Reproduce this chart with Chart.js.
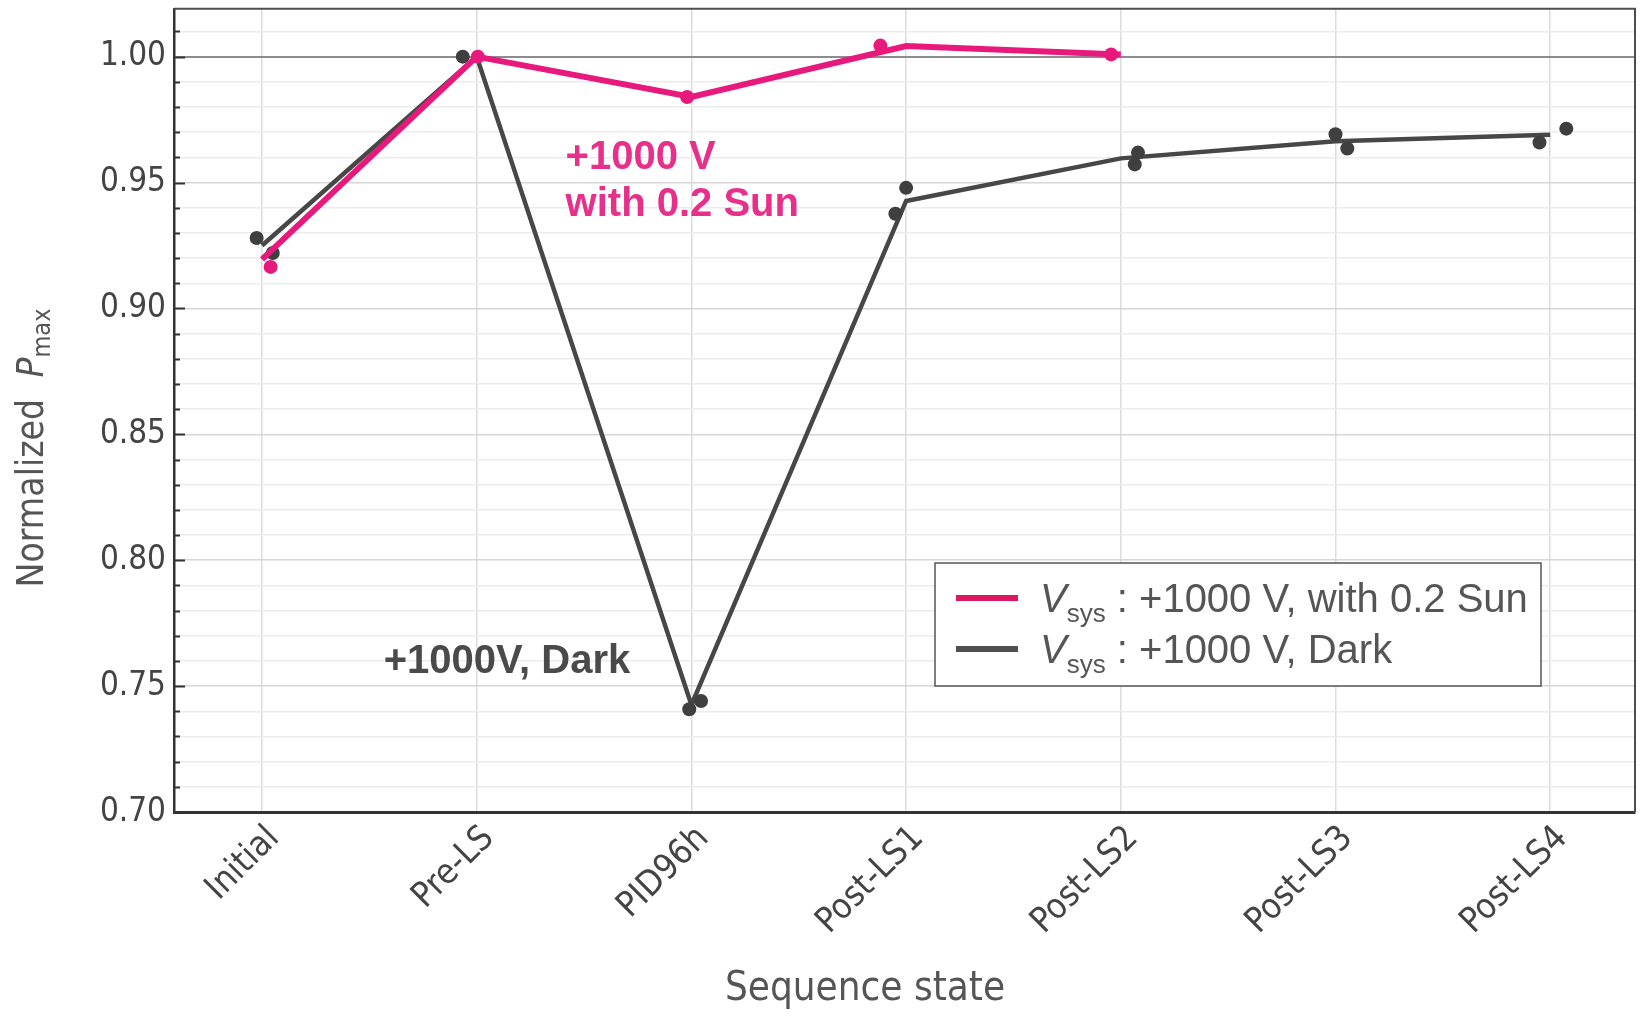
<!DOCTYPE html>
<html>
<head>
<meta charset="utf-8">
<script src="https://cdn.jsdelivr.net/npm/chart.js@4.4.1/dist/chart.umd.min.js"></script>
<style>
  html, body { margin: 0; padding: 0; background: #ffffff; }
  #wrap { width: 1642px; height: 1016px; position: relative; }
</style>
</head>
<body>
<div id="wrap"><canvas id="chart" width="1642" height="1016"></canvas></div>
<script>
// Sequence states along the x axis
const categories = ['Initial', 'Pre-LS', 'PID96h', 'Post-LS1', 'Post-LS2', 'Post-LS3', 'Post-LS4'];

// Mean normalized Pmax per state (null = not measured)
const sunMean  = [0.9195, 1.000, 0.984, 1.0042, 1.0009, null, null];
const darkMean = [0.925, 1.000, 0.7425, 0.9427, 0.9596, 0.9664, 0.9690];

// Individual samples: state index, small horizontal jitter (in state units), value
const sunSampleState  = [0, 1, 2, 3, 4];
const sunSampleJitter = [0.04, 0.005, -0.02, -0.12, -0.045];
const sunSampleValue  = [0.9165, 1.000, 0.984, 1.0044, 1.0009];

const darkSampleState  = [0, 0, 1, 2, 2, 3, 3, 4, 4, 5, 5, 6, 6];
const darkSampleJitter = [-0.025, 0.05, -0.065, -0.01, 0.045, 0.0, -0.05, 0.08, 0.065, 0.0, 0.055, -0.05, 0.075];
const darkSampleValue  = [0.928, 0.922, 1.000, 0.7408, 0.7441, 0.9479, 0.9376, 0.9619, 0.9572, 0.9692, 0.9635, 0.9659, 0.9714];

// Y axis: labelled major ticks and the minor step between them
const yMajorTicks = [0.70, 0.75, 0.80, 0.85, 0.90, 0.95, 1.00];
const yMinorStep = 0.01;

const PINK = '#E8197D';
const PINK_TEXT = '#E6308A';
const DARK = '#474747';
const CONDENSED = '"DejaVu Sans Condensed", "DejaVu Sans", sans-serif';
const ARIAL = '"Liberation Sans", Arial, sans-serif';

function yGridValues() {
  const out = [];
  const n = Math.round((1.01 - yMajorTicks[0]) / yMinorStep);
  for (let k = 0; k <= n; k++) out.push(Math.round((yMajorTicks[0] + k * yMinorStep) * 100) / 100);
  return out;
}
const isMajor = v => yMajorTicks.some(m => Math.abs(m - v) < 1e-6);

function meanPoints(arr) {
  const pts = [];
  arr.forEach((v, i) => { if (v !== null) pts.push({ x: i, y: v }); });
  return pts;
}
function samplePoints(states, jitter, values) {
  return values.map((v, k) => ({ x: states[k] + jitter[k], y: v }));
}

// Draws a run of text pieces (font, colour, vertical shift) left to right
function drawRuns(ctx, x, y, runs) {
  let cx = x;
  runs.forEach(r => {
    ctx.font = r.font;
    ctx.fillStyle = r.color;
    ctx.fillText(r.text, cx, y + (r.dy || 0));
    cx += ctx.measureText(r.text).width;
  });
  return cx - x;
}
function runsWidth(ctx, runs) {
  let w = 0;
  runs.forEach(r => { ctx.font = r.font; w += ctx.measureText(r.text).width; });
  return w;
}

const decor = {
  id: 'decor',
  afterDraw(chart) {
    const { ctx, chartArea: a, scales: { x, y } } = chart;
    ctx.save();

    // top and right frame
    ctx.strokeStyle = '#4d4d4d';
    ctx.lineWidth = 2;
    ctx.beginPath();
    ctx.moveTo(a.left, a.top);
    ctx.lineTo(a.right, a.top);
    ctx.lineTo(a.right, a.bottom);
    ctx.stroke();

    // inward ticks on the y axis
    ctx.strokeStyle = '#333';
    ctx.lineWidth = 2;
    yGridValues().forEach(v => {
      const py = Math.round(y.getPixelForValue(v)) + 0.5;
      const len = isMajor(v) ? 11 : 6;
      ctx.beginPath();
      ctx.moveTo(a.left, py);
      ctx.lineTo(a.left + len, py);
      ctx.stroke();
    });

    // in-plot annotations
    ctx.textBaseline = 'middle';
    ctx.textAlign = 'left';
    ctx.font = 'bold 40px ' + ARIAL;
    ctx.fillStyle = PINK_TEXT;
    ctx.fillText('+1000 V', x.getPixelForValue(1.414), y.getPixelForValue(0.9596));
    ctx.fillText('with 0.2 Sun', x.getPixelForValue(1.414), y.getPixelForValue(0.9409));
    ctx.fillStyle = '#4a4a4a';
    ctx.fillText('+1000V, Dark', x.getPixelForValue(0.567), y.getPixelForValue(0.7596));

    // legend box
    const lx = 935, ly = 563, lw = 606, lh = 123;
    ctx.fillStyle = '#ffffff';
    ctx.fillRect(lx, ly, lw, lh);
    ctx.strokeStyle = '#555';
    ctx.lineWidth = 1.5;
    ctx.strokeRect(lx, ly, lw, lh);
    const entries = [
      { color: '#DC1862', text: ' : +1000 V, with 0.2 Sun', cy: 598 },
      { color: '#505050', text: ' : +1000 V, Dark', cy: 649 }
    ];
    ctx.textBaseline = 'alphabetic';
    entries.forEach(e => {
      ctx.strokeStyle = e.color;
      ctx.lineWidth = 6;
      ctx.beginPath();
      ctx.moveTo(956, e.cy);
      ctx.lineTo(1018, e.cy);
      ctx.stroke();
      drawRuns(ctx, 1040, e.cy + 14, [
        { text: 'V', font: 'italic 40px ' + ARIAL, color: '#555' },
        { text: 'sys', font: '26px ' + ARIAL, color: '#555', dy: 10 },
        { text: e.text, font: '40px ' + ARIAL, color: '#555' }
      ]);
    });

    // x axis title
    ctx.textBaseline = 'middle';
    ctx.textAlign = 'center';
    ctx.font = '40px ' + CONDENSED;
    ctx.fillStyle = '#555';
    ctx.fillText('Sequence state', 865, 990);

    // y axis title with italic P and subscript "max"
    const yRuns = [
      { text: 'Normalized  ', font: '37px ' + CONDENSED, color: '#555' },
      { text: 'P', font: 'italic 37px ' + CONDENSED, color: '#555' },
      { text: 'max', font: '25px ' + CONDENSED, color: '#555', dy: 10 }
    ];
    ctx.textAlign = 'left';
    ctx.translate(33, 448);
    ctx.rotate(-Math.PI / 2);
    const w = runsWidth(ctx, yRuns);
    drawRuns(ctx, -w / 2, 0, yRuns);

    ctx.restore();
  }
};

new Chart(document.getElementById('chart'), {
  type: 'scatter',
  data: {
    datasets: [
      {
        label: 'Vsys : +1000 V, with 0.2 Sun',
        data: meanPoints(sunMean),
        showLine: true,
        borderColor: PINK,
        borderWidth: 6,
        pointRadius: 0,
        tension: 0,
        order: 2
      },
      {
        label: 'with 0.2 Sun samples',
        data: samplePoints(sunSampleState, sunSampleJitter, sunSampleValue),
        backgroundColor: PINK,
        borderWidth: 0,
        pointRadius: 7,
        order: 1
      },
      {
        label: 'Vsys : +1000 V, Dark',
        data: meanPoints(darkMean),
        showLine: true,
        borderColor: DARK,
        borderWidth: 4.5,
        pointRadius: 0,
        tension: 0,
        order: 4
      },
      {
        label: 'Dark samples',
        data: samplePoints(darkSampleState, darkSampleJitter, darkSampleValue),
        backgroundColor: '#3f3f3f',
        borderWidth: 0,
        pointRadius: 7,
        order: 3
      }
    ]
  },
  options: {
    responsive: false,
    animation: false,
    devicePixelRatio: 1,
    layout: { padding: { top: 0, right: 5, left: 0, bottom: 0 } },
    plugins: {
      legend: { display: false },
      tooltip: { enabled: false },
      title: { display: false }
    },
    scales: {
      x: {
        type: 'linear',
        min: -0.41,
        max: 6.395,
        afterBuildTicks: s => { s.ticks = categories.map((_, i) => ({ value: i })); },
        afterFit: s => { s.height = 204; },
        ticks: {
          callback: v => categories[v] ?? '',
          autoSkip: false,
          minRotation: 45,
          maxRotation: 45,
          padding: 6,
          labelOffset: 12,
          color: '#444',
          font: { family: CONDENSED, size: 35 }
        },
        grid: { color: '#dcdcdc', lineWidth: 1.5, drawTicks: false },
        border: { color: '#333', width: 3 }
      },
      y: {
        min: 0.70,
        max: 1.019,
        afterBuildTicks: s => { s.ticks = yGridValues().map(v => ({ value: v })); },
        afterFit: s => { s.width = 174; },
        ticks: {
          callback: v => isMajor(v) ? v.toFixed(2) : '',
          autoSkip: false,
          padding: 8,
          color: '#444',
          font: { family: CONDENSED, size: 33, lineHeight: 0.05 }
        },
        grid: {
          drawTicks: false,
          color: c => {
            const v = c.tick ? c.tick.value : 0;
            if (Math.abs(v - 1) < 1e-6) return '#8c8c8c';
            return isMajor(v) ? '#d6d6d6' : '#ececec';
          },
          lineWidth: c => (c.tick && Math.abs(c.tick.value - 1) < 1e-6) ? 2 : 1.5
        },
        border: { color: '#333', width: 2.5 }
      }
    }
  },
  plugins: [decor]
});
</script>
</body>
</html>
